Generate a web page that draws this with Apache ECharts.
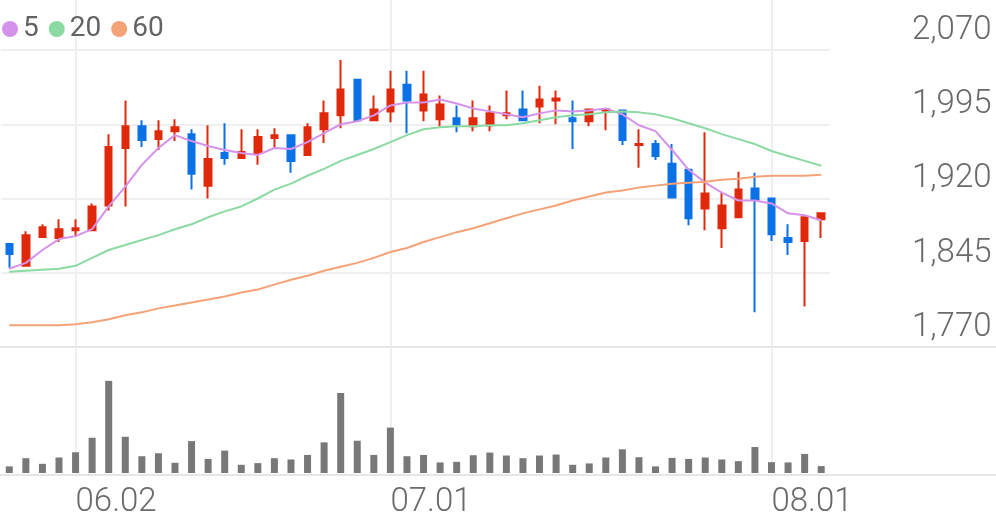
<!DOCTYPE html>
<html>
<head>
<meta charset="utf-8">
<script src="https://cdn.jsdelivr.net/npm/echarts@6/dist/echarts.min.js"></script>
<style>
html,body{margin:0;padding:0;background:#fff;}
#c{width:996px;height:519px;}
</style>
</head>
<body>
<div id="c"></div>
<script>
const dates = ['05.27','05.28','05.29','05.30','06.02','06.04','06.05','06.09','06.10','06.11',
  '06.12','06.13','06.16','06.17','06.18','06.19','06.20','06.23','06.24','06.25',
  '06.26','06.27','06.30','07.01','07.02','07.03','07.04','07.07','07.08','07.09',
  '07.10','07.11','07.14','07.15','07.16','07.17','07.18','07.21','07.22','07.23',
  '07.24','07.25','07.28','07.29','07.30','07.31','08.01','08.04','08.05','08.06'];
const tickLabels = ['06.02','07.01','08.01'];
const open = [1874,1852,1881,1880,1888,1888,1913,1971,1993,1980,1988,1985,1933,1966,1961,1966,1981,1984,1964,1990,
  2004,2040,1999,2008,2035,2009,2000,2001,1993,1994,2004,2010,2013,2019,2001,1998,2009,2009,1974,1975,
  1955,1949,1910,1890,1901,1930,1920,1880,1877,1899];
const close = [1864,1883,1891,1889,1890,1912,1972,1993,1979,1988,1992,1945,1960,1961,1967,1982,1984,1958,1992,2006,
  2030,1999,2010,2030,2019,2025,2015,1995,2001,2006,2006,1999,2020,2021,1998,2010,2010,1979,1975,1963,
  1921,1900,1925,1913,1929,1919,1884,1876,1901,1905];
const low = [1850,1852,1880,1876,1881,1888,1908,1912,1972,1969,1978,1929,1920,1954,1960,1954,1970,1946,1964,1976,
  1991,1999,1998,1997,1986,1998,1993,1987,1988,1988,2000,1998,1996,1995,1970,1993,1989,1974,1951,1959,
  1920,1893,1888,1870,1901,1805,1877,1863,1811,1880];
const high = [1875,1887,1894,1899,1899,1915,1985,2019,1999,1999,2000,1990,1994,1996,1990,1990,1991,1985,1996,2019,
  2060,2040,2024,2049,2049,2049,2024,2014,2019,2014,2029,2029,2034,2029,2019,2010,2010,2009,1990,1979,
  1975,1949,1987,1926,1947,1946,1920,1894,1901,1906];
const ma5 = [1849,1855,1868,1879,1882,1889,1912,1932,1954,1971,1984,1978,1973,1969,1966,1964,1971,1970,1977,1986,
  1995,1998,2004,2014,2017,2017,2020,2016,2011,2008,2005,2002,2006,2009,2008,2009,2011,2005,1994,1988,
  1969,1949,1936,1926,1918,1918,1915,1905,1903,1898];
const ma20 = [1846,1847,1848,1849,1852,1860,1868,1873,1878,1883,1889,1894,1901,1907,1912,1920,1929,1935,1943,1950,
  1958,1964,1970,1977,1984,1990,1992,1993,1993,1994,1994,1996,1999,2002,2004,2005,2007,2008,2007,2005,
  2001,1996,1991,1985,1980,1975,1968,1963,1958,1953];
const ma60 = [1792,1792,1792,1792,1793,1795,1798,1802,1805,1809,1812,1815,1818,1821,1825,1828,1833,1838,1842,1847,
  1851,1855,1860,1866,1870,1876,1881,1886,1890,1895,1900,1905,1909,1913,1918,1922,1926,1928,1931,1933,
  1935,1936,1937,1939,1940,1942,1943,1943,1943,1944];
const volume = [33500,75000,46500,78500,105000,178500,466500,183500,85000,100000,51500,161500,71500,113500,41500,50000,75000,68500,91500,155000,
  405000,163500,91500,230000,85000,91500,53500,56500,90000,103500,88500,75000,88500,93500,41500,48500,78500,120000,80000,33500,
  76500,71500,78500,68500,60000,131500,55000,53500,96500,35000];
const priceTicks = [1770,1845,1920,1995,2070];

const candleData = open.map((o, i) => [o, close[i], low[i], high[i]]);
const RED = '#e0290a', BLUE = '#0a71e6';
const gridLine = '#efefef';
const txt = '#6a6a6a';

const chart = echarts.init(document.getElementById('c'), null, {renderer:'canvas'});
chart.setOption({
  animation: false,
  backgroundColor: '#fff',
  legend: {
    data: [{name:'5', icon:'circle'},{name:'20', icon:'circle'},{name:'60', icon:'circle'}],
    left: 2, top: 15, padding: 0, itemWidth: 16, itemHeight: 16, itemGap: 10,
    textStyle: {fontFamily:'Roboto', fontSize: 28, color: '#636363'}
  },
  grid: [
    {left: 1, right: 166.5, top: 50, bottom: 172},
    {left: 1, right: 166.5, top: 354.5, bottom: 44.5},
    {left: 9.29, right: 174.8, top: 0, bottom: 44.5},
    {left: 0, right: 0, top: 0, bottom: 172},
    {left: 0, right: 0, top: 0, bottom: 44.5}
  ],
  xAxis: [
    {type:'category', gridIndex:0, data: dates, boundaryGap: true, show: false},
    {type:'category', gridIndex:1, data: dates, boundaryGap: true,
      axisLine:{show:false}, axisTick:{show:false}, splitLine:{show:false},
      axisLabel:{show:true, interval: (i, v) => tickLabels.includes(v), align:'left', margin: 13,
        fontFamily:'Roboto', fontWeight: 300, fontSize: 33, color: txt}},
    {type:'category', gridIndex:2, data: dates, boundaryGap: false,
      axisLine:{show:false}, axisTick:{show:false}, axisLabel:{show:false},
      splitLine:{show:true, interval: (i, v) => tickLabels.includes(v), lineStyle:{color: gridLine, width: 2}}},
    {type:'value', gridIndex:3, axisLine:{show:true, lineStyle:{color:'#e6e6e6', width:2}}, axisTick:{show:false}, axisLabel:{show:false}, splitLine:{show:false}},
    {type:'value', gridIndex:4, axisLine:{show:true, lineStyle:{color:'#e6e6e6', width:2}}, axisTick:{show:false}, axisLabel:{show:false}, splitLine:{show:false}}
  ],
  yAxis: [
    {type:'value', gridIndex:0, position:'right', min: priceTicks[0], max: priceTicks[priceTicks.length-1], interval: 75,
      axisLine:{show:false}, axisTick:{show:false},
      splitLine:{show:true, lineStyle:{color: gridLine, width: 2}},
      axisLabel:{show:true, align:'right', verticalAlign:'bottom', margin: 162, padding:[0,0,3,0],
        fontFamily:'Roboto', fontWeight: 300, fontSize: 33, color: txt,
        formatter: v => priceTicks.includes(v) ? v.toLocaleString('en-US') : ''}},
    {type:'value', gridIndex:1, min:0, max:600000, show:false},
    {type:'value', gridIndex:2, show:false},
    {type:'value', gridIndex:3, show:false},
    {type:'value', gridIndex:4, show:false}
  ],
  series: [
    {type:'candlestick', name:'price', xAxisIndex:0, yAxisIndex:0, data: candleData, barWidth: 7,
      itemStyle:{color: RED, color0: BLUE, borderColor: RED, borderColor0: BLUE, borderWidth: 2}},
    {type:'line', name:'5', xAxisIndex:0, yAxisIndex:0, data: ma5, symbol:'none', smooth:false,
      lineStyle:{color:'#d492ea', width:2}, itemStyle:{color:'#d492ea'}, z: 3},
    {type:'line', name:'20', xAxisIndex:0, yAxisIndex:0, data: ma20, symbol:'none',
      lineStyle:{color:'#8bd9a3', width:2}, itemStyle:{color:'#8bd9a3'}, z: 3},
    {type:'line', name:'60', xAxisIndex:0, yAxisIndex:0, data: ma60, symbol:'none',
      lineStyle:{color:'#f6a277', width:2}, itemStyle:{color:'#f6a277'}, z: 3},
    {type:'bar', name:'vol', xAxisIndex:1, yAxisIndex:1, data: volume, barWidth: 7,
      itemStyle:{color:'#787878'}}
  ]
});
</script>
</body>
</html>
